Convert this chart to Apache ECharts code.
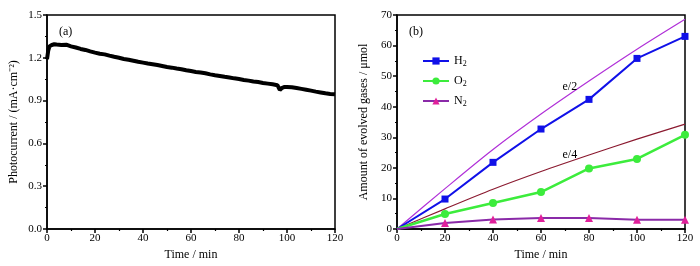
<!DOCTYPE html>
<html>
<head>
<meta charset="utf-8">
<script src="https://cdn.jsdelivr.net/npm/echarts@6/dist/echarts.min.js"></script>
<style>
  html, body { margin: 0; padding: 0; background: #fff; }
  #chart { width: 700px; height: 266px; }
</style>
</head>
<body>
<div id="chart"></div>
<script>
// (a) photocurrent vs time
const photoTime = [0, 0.5, 1, 2, 3, 4, 6, 8, 10, 12, 14, 16, 18, 20, 22, 24, 26, 28, 30, 32, 34, 36, 38, 40,
    42, 44, 46, 48, 50, 52, 54, 56, 58, 60, 62, 64, 66, 68, 70, 72, 74, 76, 78, 80, 82, 84, 86, 88, 90,
    92, 94, 96, 97, 98, 99, 100, 102, 104, 106, 108, 110, 112, 114, 116, 118, 120];
const photoCurrent = [1.19, 1.25, 1.28, 1.29, 1.295, 1.293, 1.29, 1.292, 1.28, 1.272, 1.262, 1.255, 1.245,
    1.236, 1.228, 1.224, 1.215, 1.207, 1.2, 1.192, 1.186, 1.179, 1.172, 1.166, 1.16, 1.155, 1.149, 1.142,
    1.135, 1.131, 1.125, 1.12, 1.113, 1.107, 1.101, 1.097, 1.092, 1.084, 1.078, 1.073, 1.067, 1.062, 1.056,
    1.051, 1.045, 1.04, 1.034, 1.03, 1.024, 1.019, 1.014, 1.008, 0.975, 0.99, 0.996, 0.996, 0.993, 0.988,
    0.982, 0.976, 0.97, 0.963, 0.957, 0.951, 0.947, 0.944];

// (b) evolved gases vs time
const gasTime = [0, 20, 40, 60, 80, 100, 120];
const h2 = [0, 9.8, 21.8, 32.7, 42.4, 55.8, 63.0];
const o2 = [0, 4.9, 8.5, 12.1, 19.8, 22.9, 30.8];
const n2 = [0, 2.0, 3.1, 3.6, 3.6, 3.0, 3.0];
const eHalf = [0, 13.2, 26.0, 37.6, 48.4, 58.8, 68.6];
const eQuarter = [0, 6.6, 13.0, 18.8, 24.2, 29.4, 34.3];

const FONT = 'Liberation Serif';

const pairs = (xs, ys, skipFirstSymbol) => xs.map((x, i) => (
    skipFirstSymbol && i === 0 ? { value: [x, ys[i]], symbol: 'none' } : [x, ys[i]]
));

const xAxisBase = (gridIndex) => ({
    type: 'value',
    gridIndex,
    min: 0,
    max: 120,
    interval: 20,
    name: 'Time / min',
    nameLocation: 'middle',
    nameGap: 19,
    nameTextStyle: { fontFamily: FONT, fontSize: 12, color: '#000' },
    axisLine: { lineStyle: { color: '#000', width: 1.5 } },
    axisTick: { length: 4, lineStyle: { color: '#000', width: 1.5 } },
    minorTick: { show: true, splitNumber: 2, length: 2, lineStyle: { color: '#000', width: 1.2 } },
    axisLabel: { fontFamily: FONT, fontSize: 11, color: '#000', margin: 4 },
    splitLine: { show: false }
});

const yAxisBase = (gridIndex) => ({
    type: 'value',
    gridIndex,
    min: 0,
    nameLocation: 'middle',
    nameGap: 27,
    nameTextStyle: { fontFamily: FONT, fontSize: 12, color: '#000' },
    axisLine: { show: true, lineStyle: { color: '#000', width: 1.5 } },
    axisTick: { show: true, length: 4, lineStyle: { color: '#000', width: 1.5 } },
    minorTick: { show: true, splitNumber: 2, length: 2, lineStyle: { color: '#000', width: 1.2 } },
    axisLabel: { fontFamily: FONT, fontSize: 11, color: '#000', margin: 5 },
    splitLine: { show: false }
});

const lineTag = (text, coord) => ({
    symbol: 'circle',
    symbolSize: 1,
    itemStyle: { color: 'transparent' },
    label: { show: true, position: 'inside', fontFamily: FONT, fontSize: 12, color: '#000' },
    data: [{ coord, value: text, label: { formatter: text } }]
});

const chart = echarts.init(document.getElementById('chart'));

const subRich = {
    sub: { fontFamily: FONT, fontSize: 8, color: '#000', verticalAlign: 'bottom', padding: [6, 0, 0, 0] },
    base: { fontFamily: FONT, fontSize: 12, color: '#000' }
};

chart.setOption({
    animation: false,
    title: [
        { text: '(a)', left: 54, top: 21, textStyle: { fontFamily: FONT, fontSize: 12, fontWeight: 'normal', color: '#000' } },
        { text: '(b)', left: 404, top: 21, textStyle: { fontFamily: FONT, fontSize: 12, fontWeight: 'normal', color: '#000' } }
    ],
    grid: [
        { left: 47, right: 365, top: 15, bottom: 37, show: true, borderColor: '#000', borderWidth: 1.5 },
        { left: 397, right: 15, top: 15, bottom: 37, show: true, borderColor: '#000', borderWidth: 1.5 }
    ],
    legend: {
        left: 417,
        top: 50,
        orient: 'vertical',
        itemWidth: 26,
        itemHeight: 9,
        itemGap: 7,
        data: ['H2', 'O2', 'N2'],
        formatter: (name) => `{base|${name[0]}}{sub|2}`,
        textStyle: { rich: subRich, fontFamily: FONT }
    },
    xAxis: [xAxisBase(0), xAxisBase(1)],
    yAxis: [
        Object.assign(yAxisBase(0), {
            max: 1.5,
            interval: 0.3,
            name: 'Photocurrent / (mA·cm⁻²)',
            axisLabel: { fontFamily: FONT, fontSize: 11, color: '#000', margin: 5, formatter: (v) => v.toFixed(1) }
        }),
        Object.assign(yAxisBase(1), {
            max: 70,
            interval: 10,
            name: 'Amount of evolved gases / μmol'
        })
    ],
    series: [
        {
            type: 'line',
            xAxisIndex: 0,
            yAxisIndex: 0,
            data: pairs(photoTime, photoCurrent),
            showSymbol: false,
            lineStyle: { color: '#000', width: 4 }
        },
        {
            name: 'e/2',
            type: 'line',
            xAxisIndex: 1,
            yAxisIndex: 1,
            data: pairs(gasTime, eHalf),
            smooth: 0.3,
            showSymbol: false,
            lineStyle: { color: '#b030d8', width: 1.2 },
            z: 1,
            markPoint: lineTag('e/2', [72, 46.4])
        },
        {
            name: 'e/4',
            type: 'line',
            xAxisIndex: 1,
            yAxisIndex: 1,
            data: pairs(gasTime, eQuarter),
            smooth: 0.3,
            showSymbol: false,
            lineStyle: { color: '#8b1a30', width: 1.2 },
            z: 1,
            markPoint: lineTag('e/4', [72, 24.2])
        },
        {
            name: 'H2',
            type: 'line',
            xAxisIndex: 1,
            yAxisIndex: 1,
            data: pairs(gasTime, h2, true),
            symbol: 'rect',
            symbolSize: 7,
            lineStyle: { color: '#1010e8', width: 2 },
            itemStyle: { color: '#1010e8' }
        },
        {
            name: 'O2',
            type: 'line',
            xAxisIndex: 1,
            yAxisIndex: 1,
            data: pairs(gasTime, o2, true),
            symbol: 'circle',
            symbolSize: 8,
            lineStyle: { color: '#3cec3c', width: 2.5 },
            itemStyle: { color: '#3cec3c' }
        },
        {
            name: 'N2',
            type: 'line',
            xAxisIndex: 1,
            yAxisIndex: 1,
            data: pairs(gasTime, n2, true),
            symbol: 'triangle',
            symbolSize: 8,
            lineStyle: { color: '#8a2aa8', width: 2 },
            itemStyle: { color: '#e0209a' }
        }
    ]
});
</script>
</body>
</html>
